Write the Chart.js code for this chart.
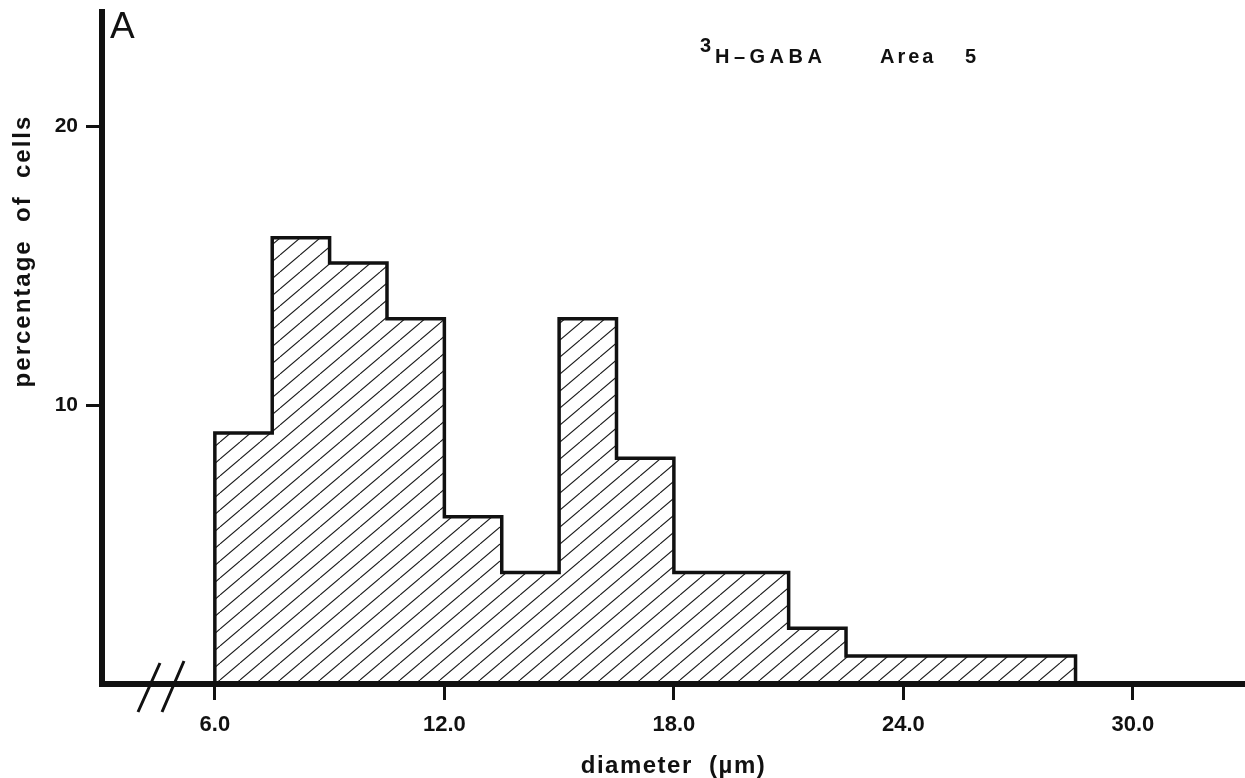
<!DOCTYPE html>
<html>
<head>
<meta charset="utf-8">
<title>3H-GABA Area 5</title>
<script src="https://cdn.jsdelivr.net/npm/chart.js@4/dist/chart.umd.min.js"></script>
<style>
  html, body { margin: 0; padding: 0; background: #fff; }
  #wrap { width: 1245px; height: 778px; }
</style>
</head>
<body>
<div id="wrap"><canvas id="histo" width="1245" height="778"></canvas></div>
<script>
// bin edges (µm) and percentage of cells in each 1.5 µm bin
const binEdges = [6.0, 7.5, 9.0, 10.5, 12.0, 13.5, 15.0, 16.5, 18.0, 19.5, 21.0, 22.5, 24.0, 25.5, 27.0, 28.5];
const cellPercent = [9.0, 16.0, 15.1, 13.1, 6.0, 4.0, 13.1, 8.1, 4.0, 4.0, 2.0, 1.0, 1.0, 1.0, 1.0];

// tick labels
const xTicks = [6.0, 12.0, 18.0, 24.0, 30.0];
const yTicks = [10, 20];

// labels
const panelLetter = 'A';
const xTitle = 'diameter  (µm)';
const yTitle = 'percentage  of  cells';
const tracer = 'H–GABA';
const isotope = '3';
const areaLabel = 'Area';
const areaNumber = '5';

const FONT = '"Liberation Sans", Arial, Helvetica, sans-serif';

// stepped outline: up from the axis at the first edge, down at the last
const outline = [{ x: binEdges[0], y: 0 }];
cellPercent.forEach((v, i) => outline.push({ x: binEdges[i], y: v }));
outline.push({ x: binEdges[binEdges.length - 1], y: 0 });

const canvas = document.getElementById('histo');
const ctx = canvas.getContext('2d');

// diagonal hatching used for the histogram fill
function makeHatch() {
    const w = 20, h = 17;
    const tile = document.createElement('canvas');
    tile.width = w;
    tile.height = h;
    const t = tile.getContext('2d');
    t.strokeStyle = '#1a1a1a';
    t.lineWidth = 1.1;
    for (const dx of [-w, 0, w]) {
        t.beginPath();
        t.moveTo(dx, h);
        t.lineTo(dx + w, 0);
        t.stroke();
    }
    return ctx.createPattern(tile, 'repeat');
}

// free text and the axis break marks
const figureText = {
    id: 'figureText',
    afterDraw(chart) {
        const c = chart.ctx;
        const area = chart.chartArea;
        c.save();
        c.fillStyle = '#111';
        c.textBaseline = 'alphabetic';

        // panel letter
        c.font = '37px ' + FONT;
        c.textAlign = 'left';
        c.fillText(panelLetter, 110, 38);

        // header
        c.font = 'bold 20px ' + FONT;
        c.letterSpacing = '0px';
        c.fillText(isotope, 700, 52);
        c.letterSpacing = '4.5px';
        c.fillText(tracer, 715, 63);
        c.letterSpacing = '3px';
        c.fillText(areaLabel, 880, 63);
        c.fillText(areaNumber, 965, 63);

        // axis titles
        c.font = 'bold 24px ' + FONT;
        c.letterSpacing = '1.5px';
        c.textAlign = 'center';
        c.fillText(xTitle, (area.left + area.right) / 2, 773);
        c.letterSpacing = '2px';
        c.save();
        c.translate(30, 251);
        c.rotate(-Math.PI / 2);
        c.fillText(yTitle, 0, 0);
        c.restore();

        // "//" break on the x axis
        const yb = area.bottom;
        c.strokeStyle = '#111';
        c.lineWidth = 3;
        c.beginPath();
        c.moveTo(138, yb + 28);
        c.lineTo(160, yb - 21);
        c.moveTo(162, yb + 28);
        c.lineTo(184, yb - 23);
        c.stroke();
        c.restore();
    }
};

new Chart(ctx, {
    type: 'line',
    data: {
        datasets: [{
            data: outline,
            stepped: true,
            fill: 'origin',
            backgroundColor: makeHatch(),
            borderColor: '#111',
            borderWidth: 3.5,
            pointRadius: 0,
            borderJoinStyle: 'miter'
        }]
    },
    options: {
        responsive: false,
        devicePixelRatio: 1,
        animation: false,
        layout: { padding: { top: 12, right: 0, bottom: 0, left: 0 } },
        plugins: {
            legend: { display: false },
            tooltip: { enabled: false }
        },
        scales: {
            x: {
                type: 'linear',
                min: 3.05,
                max: 32.93,
                afterBuildTicks: (scale) => { scale.ticks = xTicks.map(v => ({ value: v })); },
                afterFit: (scale) => {
                    scale.height = 94;
                    scale.paddingLeft = 0;
                    scale.paddingRight = 0;
                },
                grid: { drawOnChartArea: false, drawTicks: true, tickLength: 16, tickWidth: 3, tickColor: '#111' },
                border: { display: true, color: '#111', width: 6, z: 1 },
                ticks: {
                    color: '#111',
                    padding: 12,
                    maxRotation: 0,
                    font: { family: FONT, size: 22, weight: 'bold' },
                    callback: (v) => Number(v).toFixed(1)
                }
            },
            y: {
                type: 'linear',
                min: 0,
                max: 24.1,
                afterBuildTicks: (scale) => { scale.ticks = yTicks.map(v => ({ value: v })); },
                afterFit: (scale) => {
                    scale.width = 102;
                    scale.paddingTop = 0;
                    scale.paddingBottom = 0;
                },
                grid: { drawOnChartArea: false, drawTicks: true, tickLength: 16, tickWidth: 3, tickColor: '#111' },
                border: { display: true, color: '#111', width: 6, z: 1 },
                ticks: {
                    color: '#111',
                    padding: 8,
                    font: { family: FONT, size: 21, weight: 'bold' },
                    callback: (v) => String(v)
                }
            }
        }
    },
    plugins: [figureText]
});
</script>
</body>
</html>
